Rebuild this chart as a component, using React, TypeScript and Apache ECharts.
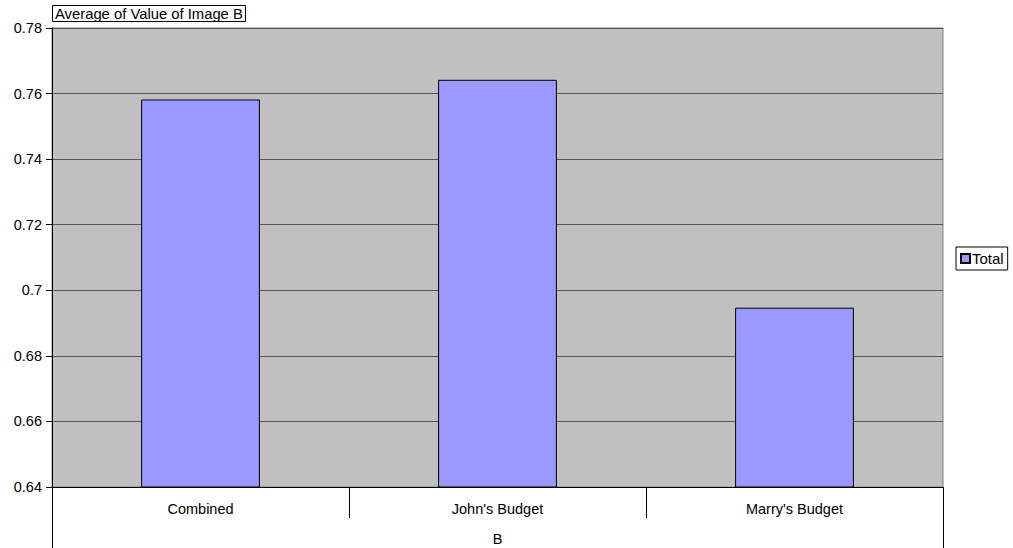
import React, { useEffect, useRef } from "react";
import * as echarts from "echarts";

const categories = ["Combined", "John's Budget", "Marry's Budget"];
const totalValues = [0.7582, 0.7642, 0.6947];
const yMin = 0.64;
const yMax = 0.78;
const yInterval = 0.02;

export default function App() {
  const ref = useRef<HTMLDivElement>(null);
  useEffect(() => {
    document.body.style.margin = "0";
    const chart = echarts.init(ref.current!, null, { renderer: "svg" });
    const font = "Liberation Sans, Arial, sans-serif";
    chart.setOption({
      animation: false,
      textStyle: { fontFamily: font },
      title: {
        text: "Average of Value of Image B",
        left: 52,
        top: 5,
        padding: [1, 3, 0, 3],
        borderColor: "#000",
        borderWidth: 1,
        backgroundColor: "#fff",
        textStyle: { fontSize: 14.8, fontWeight: "normal", color: "#000", fontFamily: font, lineHeight: 16 },
      },
      legend: {
        left: 956,
        top: 247,
        orient: "vertical",
        padding: [4, 4, 4, 4],
        borderColor: "#000",
        borderWidth: 1,
        itemWidth: 9,
        itemHeight: 9,
        itemGap: 2,
        icon: "rect",
        textStyle: { fontSize: 15, color: "#000", fontFamily: font, padding: [0, 0, 0, -3] },
        data: ["Total"],
      },
      grid: {
        left: 52,
        right: 70,
        top: 28,
        bottom: 61,
        outerBoundsMode: "none",
        containLabel: false,
        show: true,
        backgroundColor: "#C0C0C0",
        borderColor: "#808080",
        borderWidth: 1,
      },
      xAxis: {
        type: "category",
        data: categories,
        name: "B",
        nameLocation: "middle",
        nameGap: 44,
        nameTextStyle: { fontSize: 14.5, color: "#000", fontFamily: font },
        axisLine: { show: true, lineStyle: { color: "#000", width: 1 } },
        axisTick: { show: true, length: 31, interval: 0, lineStyle: { color: "#000" } },
        axisLabel: { fontSize: 14.5, color: "#000", margin: 14, fontFamily: font },
      },
      yAxis: {
        type: "value",
        min: yMin,
        max: yMax,
        interval: yInterval,
        axisLine: { show: true, lineStyle: { color: "#000", width: 1 } },
        axisTick: { show: true, length: 6, lineStyle: { color: "#000" } },
        axisLabel: { fontSize: 14.5, color: "#000", margin: 10, fontFamily: font },
        splitLine: { show: true, lineStyle: { color: "#555", width: 1 } },
      },
      graphic: [
        { type: "line", shape: { x1: 52.5, y1: 487, x2: 52.5, y2: 548 }, style: { stroke: "#000", lineWidth: 1 } },
        { type: "line", shape: { x1: 943.5, y1: 487, x2: 943.5, y2: 548 }, style: { stroke: "#000", lineWidth: 1 } },
      ],
      series: [
        {
          name: "Total",
          type: "bar",
          data: totalValues,
          barWidth: "40%",
          itemStyle: { color: "#9999FF", borderColor: "#000", borderWidth: 1 },
        },
      ],
    });
    return () => chart.dispose();
  }, []);
  return <div ref={ref} style={{ width: 1013, height: 548 }} />;
}
